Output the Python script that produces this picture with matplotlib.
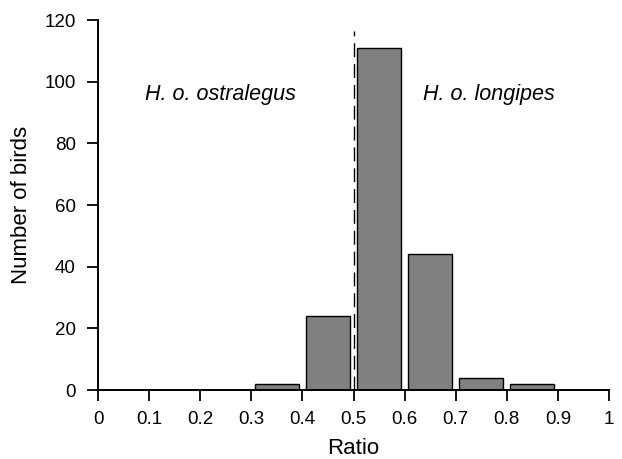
import matplotlib

matplotlib.use("Agg")
import matplotlib.pyplot as plt

plt.rcParams["font.family"] = ["Liberation Sans", "DejaVu Sans"]

bin_centers = [0.35, 0.45, 0.55, 0.65, 0.75, 0.85]
counts = [2, 24, 111, 44, 4, 2]
x_ticks = [0, 0.1, 0.2, 0.3, 0.4, 0.5, 0.6, 0.7, 0.8, 0.9, 1]
x_tick_labels = ["0", "0.1", "0.2", "0.3", "0.4", "0.5", "0.6", "0.7", "0.8", "0.9", "1"]
y_ticks = [0, 20, 40, 60, 80, 100, 120]
threshold = 0.5

fig = plt.figure(figsize=(6.22, 4.59), dpi=100)
ax = fig.add_axes([0.1576, 0.1503, 0.8215, 0.806])

ax.bar(bin_centers, counts, width=0.086, color="#808080", edgecolor="black", linewidth=1.0)
ax.plot([threshold, threshold], [0, 116.4], color="black", linestyle=(0, (10, 5)), linewidth=1.0)

ax.text(0.240, 96, "H. o. ostralegus", style="italic", fontsize=15.5, ha="center", va="center")
ax.text(0.764, 96, "H. o. longipes", style="italic", fontsize=15.5, ha="center", va="center")

ax.set_xlim(0, 1)
ax.set_ylim(0, 120)
ax.set_xticks(x_ticks)
ax.set_xticklabels(x_tick_labels)
ax.set_yticks(y_ticks)
ax.tick_params(direction="out", length=8, width=1.3, labelsize=13.5)
ax.tick_params(axis="x", pad=7)
ax.tick_params(axis="y", pad=8)
for side in ("top", "right"):
    ax.spines[side].set_visible(False)
for side in ("left", "bottom"):
    ax.spines[side].set_linewidth(1.4)
ax.set_xlabel("Ratio", fontsize=16, labelpad=7)
ax.set_ylabel("Number of birds", fontsize=16, labelpad=9)

fig.savefig("out.png", dpi=100)
